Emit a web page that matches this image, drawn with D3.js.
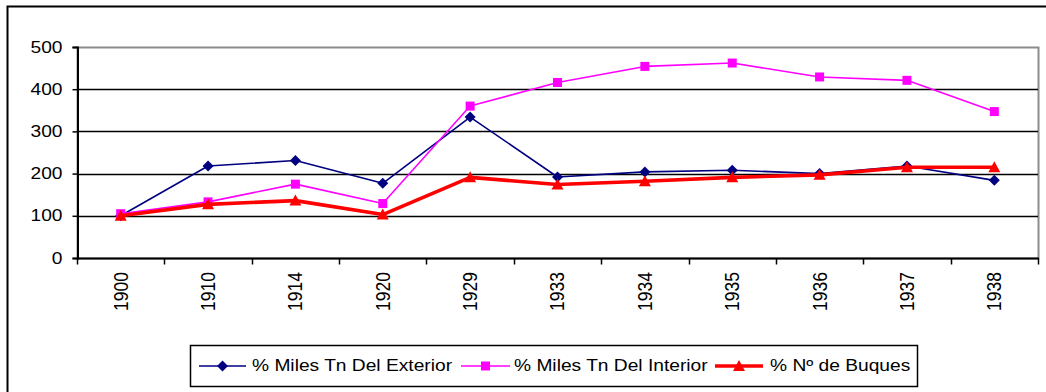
<!DOCTYPE html>
<html>
<head>
<meta charset="utf-8">
<script src="https://cdn.jsdelivr.net/npm/d3@7"></script>
<style>
  html, body { margin: 0; padding: 0; background: #fff; }
  svg { display: block; }
  text { font-family: "Liberation Sans", Arial, sans-serif; fill: #000; }
</style>
</head>
<body>
<svg id="chart" width="1046" height="392"></svg>
<script>
// Years on the category axis
const years = ["1900", "1910", "1914", "1920", "1929", "1933", "1934", "1935", "1936", "1937", "1938"];

// Index values (1900 = 100)
const exterior = [100, 218, 231, 177, 334, 192, 204, 208, 200, 218, 184];
const interior = [105, 133, 175, 129, 360, 416, 454, 462, 429, 421, 347];
const buques   = [100, 127, 136, 103, 191, 174, 182, 191, 197, 215, 215];

const yTicks = [0, 100, 200, 300, 400, 500];

const seriesNames = ["% Miles Tn Del Exterior", "% Miles Tn Del Interior", "% N\u00ba de Buques"];

const series = [
  { name: seriesNames[0], values: exterior, color: "#000080", width: 1.6, marker: "diamond" },
  { name: seriesNames[1], values: interior, color: "#FF00FF", width: 1.6, marker: "square" },
  { name: seriesNames[2], values: buques,   color: "#FF0000", width: 3.6, marker: "triangle" }
];

const svg = d3.select("#chart");
const SX = 1.2; // horizontal stretch of the lettering

const plot = { left: 77, right: 1038, top: 47, bottom: 258 };

const x = d3.scaleBand().domain(years).range([plot.left, plot.right]).paddingInner(0).paddingOuter(0);
const y = d3.scaleLinear().domain([0, 500]).range([plot.bottom, plot.top]);

// Outer chart frame
svg.append("rect")
  .attr("x", 7.5).attr("y", 6.5)
  .attr("width", 1060).attr("height", 400)
  .attr("fill", "none").attr("stroke", "#000").attr("stroke-width", 2);

// Plot area frame (grey)
svg.append("rect")
  .attr("x", plot.left + 0.5).attr("y", plot.top + 0.5)
  .attr("width", plot.right - plot.left).attr("height", plot.bottom - plot.top)
  .attr("fill", "none").attr("stroke", "#8c8c8c").attr("stroke-width", 2);

// Horizontal gridlines
svg.append("g")
  .selectAll("line")
  .data(yTicks.filter(d => d > 0 && d < 500))
  .join("line")
  .attr("x1", plot.left).attr("x2", plot.right)
  .attr("y1", d => Math.round(y(d)) + 0.5).attr("y2", d => Math.round(y(d)) + 0.5)
  .attr("stroke", "#000").attr("stroke-width", 1.5);

// Y axis
const yAxis = svg.append("g")
  .attr("transform", `translate(${plot.left + 0.5},0)`)
  .call(d3.axisLeft(y).tickValues(yTicks).tickSize(5).tickPadding(10).tickFormat(d3.format("d")));
yAxis.select(".domain").attr("stroke", "#000").attr("stroke-width", 2);
yAxis.selectAll(".tick line").attr("stroke", "#000").attr("stroke-width", 1.5);
yAxis.selectAll(".tick text")
  .attr("font-size", 16)
  .attr("font-family", "Liberation Sans, Arial, sans-serif")
  .attr("fill", "#000")
  .each(function () {
    const t = d3.select(this);
    const xx = +t.attr("x");
    t.attr("x", null)
      .attr("transform", `translate(${xx},0) scale(${SX},1)`);
  });

// X axis: ticks at category boundaries
const xAxisG = svg.append("g").attr("transform", `translate(0,${plot.bottom + 0.5})`);
xAxisG.append("line")
  .attr("x1", plot.left).attr("x2", plot.right + 1)
  .attr("stroke", "#000").attr("stroke-width", 2);
const boundaries = years.map(d => x(d)).concat([x(years[years.length - 1]) + x.bandwidth()]);
xAxisG.selectAll("line.tk")
  .data(boundaries)
  .join("line")
  .attr("class", "tk")
  .attr("x1", d => Math.round(d) + 0.5).attr("x2", d => Math.round(d) + 0.5)
  .attr("y1", 0).attr("y2", 6)
  .attr("stroke", "#000").attr("stroke-width", 1.5);

// Rotated year labels
svg.append("g")
  .selectAll("text")
  .data(years)
  .join("text")
  .attr("transform", d => `translate(${x(d) + x.bandwidth() / 2},${plot.bottom + 14}) scale(1.15,1) rotate(-90)`)
  .attr("text-anchor", "end")
  .attr("dominant-baseline", "central")
  .attr("font-size", 17.5)
  .text(d => d);

// Marker shapes
function drawMarker(g, type, cx, cy, color) {
  if (type === "diamond") {
    const r = 5.5;
    g.append("path")
      .attr("d", `M${cx},${cy - r}L${cx + r},${cy}L${cx},${cy + r}L${cx - r},${cy}Z`)
      .attr("fill", color);
  } else if (type === "square") {
    const s = 9;
    g.append("rect")
      .attr("x", cx - s / 2).attr("y", cy - s / 2)
      .attr("width", s).attr("height", s)
      .attr("fill", color);
  } else {
    const w = 12, h = 11;
    g.append("path")
      .attr("d", `M${cx},${cy - h * 0.55}L${cx + w / 2},${cy + h * 0.45}L${cx - w / 2},${cy + h * 0.45}Z`)
      .attr("fill", color);
  }
}

const line = d3.line()
  .x((d, i) => x(years[i]) + x.bandwidth() / 2)
  .y(d => y(d));

series.forEach(s => {
  const g = svg.append("g");
  g.append("path")
    .datum(s.values)
    .attr("d", line)
    .attr("fill", "none")
    .attr("stroke", s.color)
    .attr("stroke-width", s.width)
    .attr("stroke-linejoin", "round");
  s.values.forEach((v, i) => drawMarker(g, s.marker, x(years[i]) + x.bandwidth() / 2, y(v), s.color));
});

// Legend
const legend = svg.append("g");
legend.append("rect")
  .attr("x", 190.5).attr("y", 345.5)
  .attr("width", 727).attr("height", 41)
  .attr("fill", "#fff").attr("stroke", "#000").attr("stroke-width", 1.5);

const legendItems = [
  { s: series[0], x1: 199, x2: 246, tx: 252 },
  { s: series[1], x1: 461, x2: 510, tx: 514 },
  { s: series[2], x1: 715, x2: 763, tx: 770 }
];
const ly = 366;
legendItems.forEach(it => {
  legend.append("line")
    .attr("x1", it.x1).attr("x2", it.x2)
    .attr("y1", ly).attr("y2", ly)
    .attr("stroke", it.s.color).attr("stroke-width", it.s.width);
  drawMarker(legend, it.s.marker, (it.x1 + it.x2) / 2, ly, it.s.color);
  legend.append("text")
    .attr("transform", `translate(${it.tx},${ly}) scale(${SX},1)`)
    .attr("dominant-baseline", "central")
    .attr("font-size", 16)
    .text(it.s.name);
});
</script>
</body>
</html>
